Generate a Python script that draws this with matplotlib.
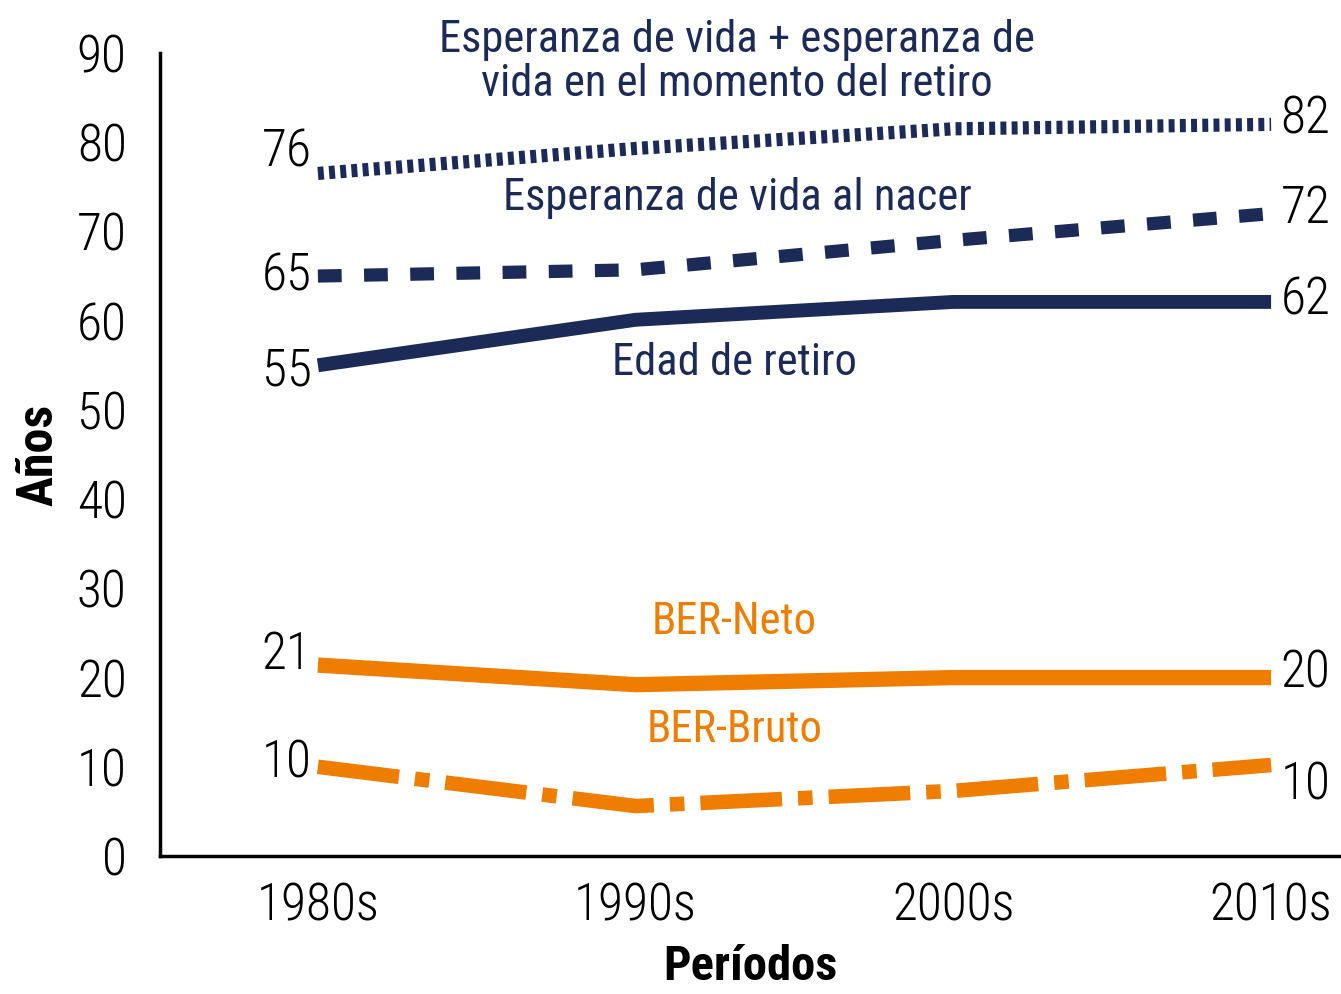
import matplotlib.pyplot as plt

# Data
periodos = ["1980s", "1990s", "2000s", "2010s"]
esp_total = [76.5, 79.3, 81.5, 82.0]
esp_nacer = [65.0, 65.7, 69.0, 72.0]
edad_retiro = [55.0, 60.1, 62.1, 62.1]
ber_neto = [21.4, 19.2, 20.0, 20.0]
ber_bruto = [10.0, 5.6, 7.3, 10.2]

lbl_total = ["76", "82"]
lbl_nacer = ["65", "72"]
lbl_retiro = ["55", "62"]
lbl_neto = ["21", "20"]
lbl_bruto = ["10", "10"]

navy = "#1b2a56"
orange = "#ee7d00"

plt.rcParams['font.family'] = ['Roboto Condensed', 'DejaVu Sans']
plt.rcParams['font.stretch'] = 'condensed'

fig = plt.figure(figsize=(13.41, 9.94), dpi=100)
ax = fig.add_axes([0.1193, 0.1388, 0.8807, 0.8079])

x = range(len(periodos))

# Lines
ax.plot(x, esp_total, color=navy, lw=9.5, linestyle=(0, (0.45, 0.4)), solid_capstyle='butt', dash_capstyle='butt')
ax.plot(x, esp_nacer, color=navy, lw=9.5, linestyle=(0, (1.8, 1.7)), dash_capstyle='butt')
ax.plot(x, edad_retiro, color=navy, lw=10, solid_capstyle='butt')
ax.plot(x, ber_neto, color=orange, lw=11, solid_capstyle='butt')
ax.plot(x, ber_bruto, color=orange, lw=10.5, linestyle=(0, (5.6, 1.1, 1.0, 1.1)), dash_capstyle='butt')

# End-point labels
fs = 37
for vals, lbls, dl, dr in [(esp_total, lbl_total, 2.3, 0.6),
                           (esp_nacer, lbl_nacer, 0.0, 0.5),
                           (edad_retiro, lbl_retiro, -0.7, 0.2),
                           (ber_neto, lbl_neto, 1.1, 0.5),
                           (ber_bruto, lbl_bruto, 0.4, -2.3)]:
    ax.text(-0.02, vals[0] + dl, lbls[0], ha='right', va='center', fontsize=fs,
            color='black', fontweight='light')
    ax.text(3.03, vals[-1] + dr, lbls[1], ha='left', va='center', fontsize=fs,
            color='black', fontweight='light')

# Series labels
ann = 32
ax.text(1.32, 89.0, "Esperanza de vida + esperanza de\nvida en el momento del retiro",
        ha='center', va='center', fontsize=ann, color=navy, linespacing=1.05)
ax.text(1.32, 73.8, "Esperanza de vida al nacer", ha='center', va='center', fontsize=ann, color=navy)
ax.text(1.31, 55.3, "Edad de retiro", ha='center', va='center', fontsize=ann, color=navy)
ax.text(1.31, 26.2, "BER-Neto", ha='center', va='center', fontsize=ann, color=orange)
ax.text(1.31, 14.1, "BER-Bruto", ha='center', va='center', fontsize=ann, color=orange)

# Axes
ax.set_xlim(-0.497, 3.22)
ax.set_ylim(0, 90)
ax.set_xticks(list(x))
ax.set_xticklabels(periodos)
ax.set_yticks(range(0, 91, 10))
ax.tick_params(length=0, labelsize=fs, pad=24)
ax.tick_params(axis='x', pad=18)
for lab in ax.get_xticklabels() + ax.get_yticklabels():
    lab.set_fontweight('light')
ax.spines['top'].set_visible(False)
ax.spines['right'].set_visible(False)
ax.spines['left'].set_linewidth(2.5)
ax.spines['bottom'].set_linewidth(2.5)
for ln in ax.lines:
    ln.set_clip_on(False)

ax.set_xlabel("Períodos", fontsize=35, fontweight='bold', labelpad=9)
ax.set_ylabel("Años", fontsize=36, fontweight='bold', labelpad=10)

fig.savefig("out.png", dpi=100)
